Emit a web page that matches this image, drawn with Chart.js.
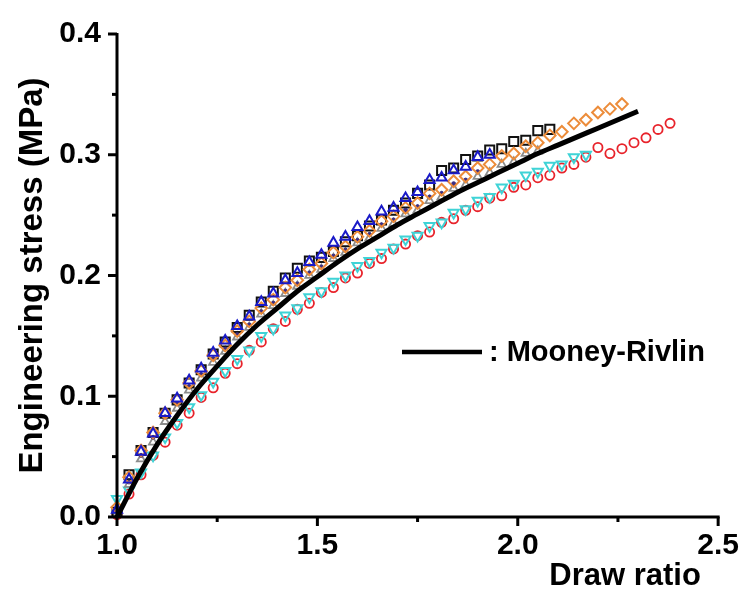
<!DOCTYPE html>
<html>
<head>
<meta charset="utf-8">
<script src="https://cdn.jsdelivr.net/npm/chart.js@4.4.1/dist/chart.umd.min.js"></script>
<style>
  html, body { margin: 0; padding: 0; background: #ffffff; }
  #wrap { width: 750px; height: 595px; }
</style>
</head>
<body>
<div id="wrap"><canvas id="c" width="750" height="595"></canvas></div>
<script>
// ---- data ----
const ratio = [1.00,1.03,1.06,1.09,1.12,1.15,1.18,1.21,1.24,1.27,1.30,1.33,1.36,1.39,1.42,1.45,1.48,1.51,1.54,1.57,1.60,1.63,1.66,1.69,1.72,1.75,1.78,1.81,1.84,1.87,1.90,1.93,1.96,1.99,2.02,2.05,2.08,2.11,2.14,2.17,2.20,2.23,2.26,2.29,2.32,2.35,2.38];

const blackSquares = [0.004,0.035,0.055,0.070,0.086,0.097,0.111,0.122,0.135,0.145,0.157,0.167,0.178,0.187,0.198,0.206,0.212,0.215,0.220,0.228,0.233,0.241,0.246,0.254,0.260,0.268,0.275,0.287,0.289,0.296,0.299,0.304,0.305,0.311,0.312,0.320,0.321];

const blueTriangles = [0.006,0.031,0.054,0.069,0.086,0.098,0.113,0.123,0.136,0.146,0.158,0.166,0.178,0.185,0.196,0.202,0.211,0.217,0.227,0.232,0.240,0.245,0.253,0.256,0.264,0.269,0.279,0.281,0.287,0.290,0.298,0.300];

const orangeDiamonds = [0.008,0.033,0.055,0.070,0.086,0.097,0.111,0.121,0.134,0.142,0.154,0.162,0.173,0.180,0.190,0.196,0.205,0.210,0.219,0.224,0.232,0.237,0.245,0.249,0.256,0.260,0.268,0.271,0.278,0.282,0.289,0.292,0.299,0.301,0.307,0.310,0.316,0.319,0.326,0.329,0.335,0.338,0.342];

const navyDots = [0.010,0.029,0.051,0.066,0.083,0.094,0.108,0.118,0.131,0.139,0.151,0.159,0.170,0.177,0.187,0.193,0.202,0.207,0.216,0.221,0.229,0.234,0.242,0.246,0.254,0.257,0.265,0.268,0.276,0.279,0.286];

const grayTriangles = [0.003,0.027,0.048,0.062,0.079,0.090,0.105,0.115,0.128,0.137,0.149,0.157,0.168,0.175,0.185,0.191,0.200,0.205,0.214,0.219,0.227,0.231,0.239,0.243,0.251,0.254,0.262,0.265,0.272,0.275,0.282,0.285,0.292,0.294,0.301,0.303];

const cyanTriangles = [0.015,0.022,0.037,0.051,0.066,0.078,0.091,0.101,0.112,0.121,0.131,0.138,0.150,0.156,0.167,0.173,0.182,0.187,0.195,0.200,0.208,0.212,0.219,0.223,0.230,0.233,0.241,0.244,0.252,0.255,0.262,0.265,0.273,0.276,0.283,0.286,0.291,0.292,0.298,0.300];

const redCircles = [0.002,0.019,0.035,0.051,0.062,0.076,0.086,0.099,0.107,0.119,0.127,0.138,0.145,0.156,0.162,0.172,0.177,0.186,0.190,0.198,0.202,0.210,0.214,0.222,0.226,0.233,0.236,0.244,0.247,0.254,0.257,0.264,0.266,0.273,0.275,0.281,0.283,0.289,0.292,0.298,0.306,0.301,0.305,0.310,0.314,0.321,0.326];

const mrRatio  = [1.00,1.05,1.10,1.15,1.20,1.25,1.30,1.35,1.40,1.45,1.50,1.55,1.60,1.65,1.70,1.75,1.80,1.85,1.90,1.95,2.00,2.05,2.10,2.15,2.20,2.25,2.30];
const mrStress = [0.000,0.032,0.060,0.084,0.106,0.125,0.143,0.159,0.173,0.187,0.199,0.211,0.222,0.232,0.242,0.251,0.260,0.269,0.277,0.285,0.293,0.301,0.308,0.315,0.322,0.329,0.336];

const yTicks = [0.0, 0.1, 0.2, 0.3, 0.4];
const xTicks = [1.0, 1.5, 2.0, 2.5];
const xTitle = 'Draw ratio';
const yTitle = 'Engineering stress (MPa)';
const legendText = ': Mooney-Rivlin';

// ---- build chart ----
const FONT = "'Liberation Sans', Arial, Helvetica, sans-serif";
const pts = (ys, xs) => ys.map((y, i) => ({ x: xs[i], y: y }));

function markerSet(label, ys, color, style, radius, rotation, width, filled) {
  return {
    type: 'scatter', label: label, data: pts(ys, ratio),
    showLine: false, clip: false,
    pointStyle: style, pointRadius: radius, pointRotation: rotation || 0,
    pointBorderColor: color, pointBorderWidth: width,
    pointBackgroundColor: filled ? color : 'rgba(0,0,0,0)',
    pointHoverRadius: radius
  };
}

const axisTicksPlugin = {
  id: 'axisTicks',
  afterDraw(chart) {
    const ctx = chart.ctx, xs = chart.scales.x, ys = chart.scales.y;
    const a = chart.chartArea;
    ctx.save();
    ctx.strokeStyle = '#000'; ctx.lineWidth = 3; ctx.lineCap = 'butt';
    ctx.beginPath();
    ctx.moveTo(a.left, a.top - 1); ctx.lineTo(a.left, a.bottom + 1.5);
    ctx.moveTo(a.left - 1.5, a.bottom); ctx.lineTo(a.right + 1.5, a.bottom);
    ctx.stroke();
    for (let k = 0; k <= 8; k++) {
      const v = k * 0.05, p = ys.getPixelForValue(v), len = (k % 2 === 0) ? 9 : 5;
      ctx.beginPath(); ctx.moveTo(a.left, p); ctx.lineTo(a.left - len, p); ctx.stroke();
    }
    for (let k = 0; k <= 6; k++) {
      const v = 1 + k * 0.25, p = xs.getPixelForValue(v), len = (k % 2 === 0) ? 9 : 5;
      ctx.beginPath(); ctx.moveTo(p, a.bottom); ctx.lineTo(p, a.bottom + len); ctx.stroke();
    }
    // legend entry for the model curve
    ctx.lineWidth = 4.5;
    ctx.beginPath(); ctx.moveTo(402, 352); ctx.lineTo(482, 352); ctx.stroke();
    ctx.fillStyle = '#000';
    ctx.font = 'bold 29px ' + FONT;
    ctx.textBaseline = 'middle'; ctx.textAlign = 'left';
    ctx.fillText(legendText, 489, 353);
    ctx.restore();
  }
};

new Chart(document.getElementById('c'), {
  type: 'scatter',
  data: {
    datasets: [
      { type: 'line', label: 'Mooney-Rivlin', data: pts(mrStress, mrRatio),
        borderColor: '#000', borderWidth: 5, pointRadius: 0, fill: false,
        tension: 0.3, clip: false },
      markerSet('s2', blueTriangles, '#1a1ac8', 'triangle', 5.8, 0, 2, false),
      markerSet('s3', orangeDiamonds, '#ec8c3a', 'rectRot', 5.8, 0, 2, false),
      markerSet('s4', navyDots, '#3b2e84', 'circle', 2, 0, 1, true),
      markerSet('s1', blackSquares, '#111111', 'rect', 6.4, 0, 2, false),
      markerSet('s5', grayTriangles, '#8c8c8c', 'triangle', 4.8, 0, 1.8, false),
      markerSet('s6', cyanTriangles, '#3fd3d6', 'triangle', 5.8, 180, 2, false),
      markerSet('s7', redCircles, '#e8232b', 'circle', 4.6, 0, 1.8, false)
    ]
  },
  options: {
    responsive: false, animation: false, devicePixelRatio: 1,
    layout: { padding: { left: 0, top: 27, right: 27, bottom: 0 } },
    plugins: { legend: { display: false }, tooltip: { enabled: false } },
    scales: {
      x: {
        type: 'linear', min: 1.0, max: 2.5,
        afterBuildTicks: s => { s.ticks = xTicks.map(v => ({ value: v })); },
        ticks: { callback: v => Number(v).toFixed(1), color: '#000', padding: 11,
                 maxRotation: 0, autoSkip: false,
                 font: { family: FONT, size: 30, weight: 'bold' } },
        grid: { display: false, drawTicks: false },
        border: { display: false },
        title: { display: true, text: xTitle + '  ', align: 'end', color: '#000',
                 padding: { top: 0, bottom: 0 },
                 font: { family: FONT, size: 31, weight: 'bold' } },
        afterFit: s => { s.height = 78; }
      },
      y: {
        type: 'linear', min: 0, max: 0.4,
        afterBuildTicks: s => { s.ticks = yTicks.map(v => ({ value: v })); },
        ticks: { callback: v => Number(v).toFixed(1), color: '#000', padding: 16,
                 font: { family: FONT, size: 30, weight: 'bold' } },
        grid: { display: false, drawTicks: false },
        border: { display: false },
        title: { display: true, text: yTitle, color: '#000',
                 padding: { top: 13, bottom: 0 },
                 font: { family: FONT, size: 33, weight: 'bold' } },
        afterFit: s => { s.width = 117; }
      }
    }
  },
  plugins: [axisTicksPlugin]
});
</script>
</body>
</html>
